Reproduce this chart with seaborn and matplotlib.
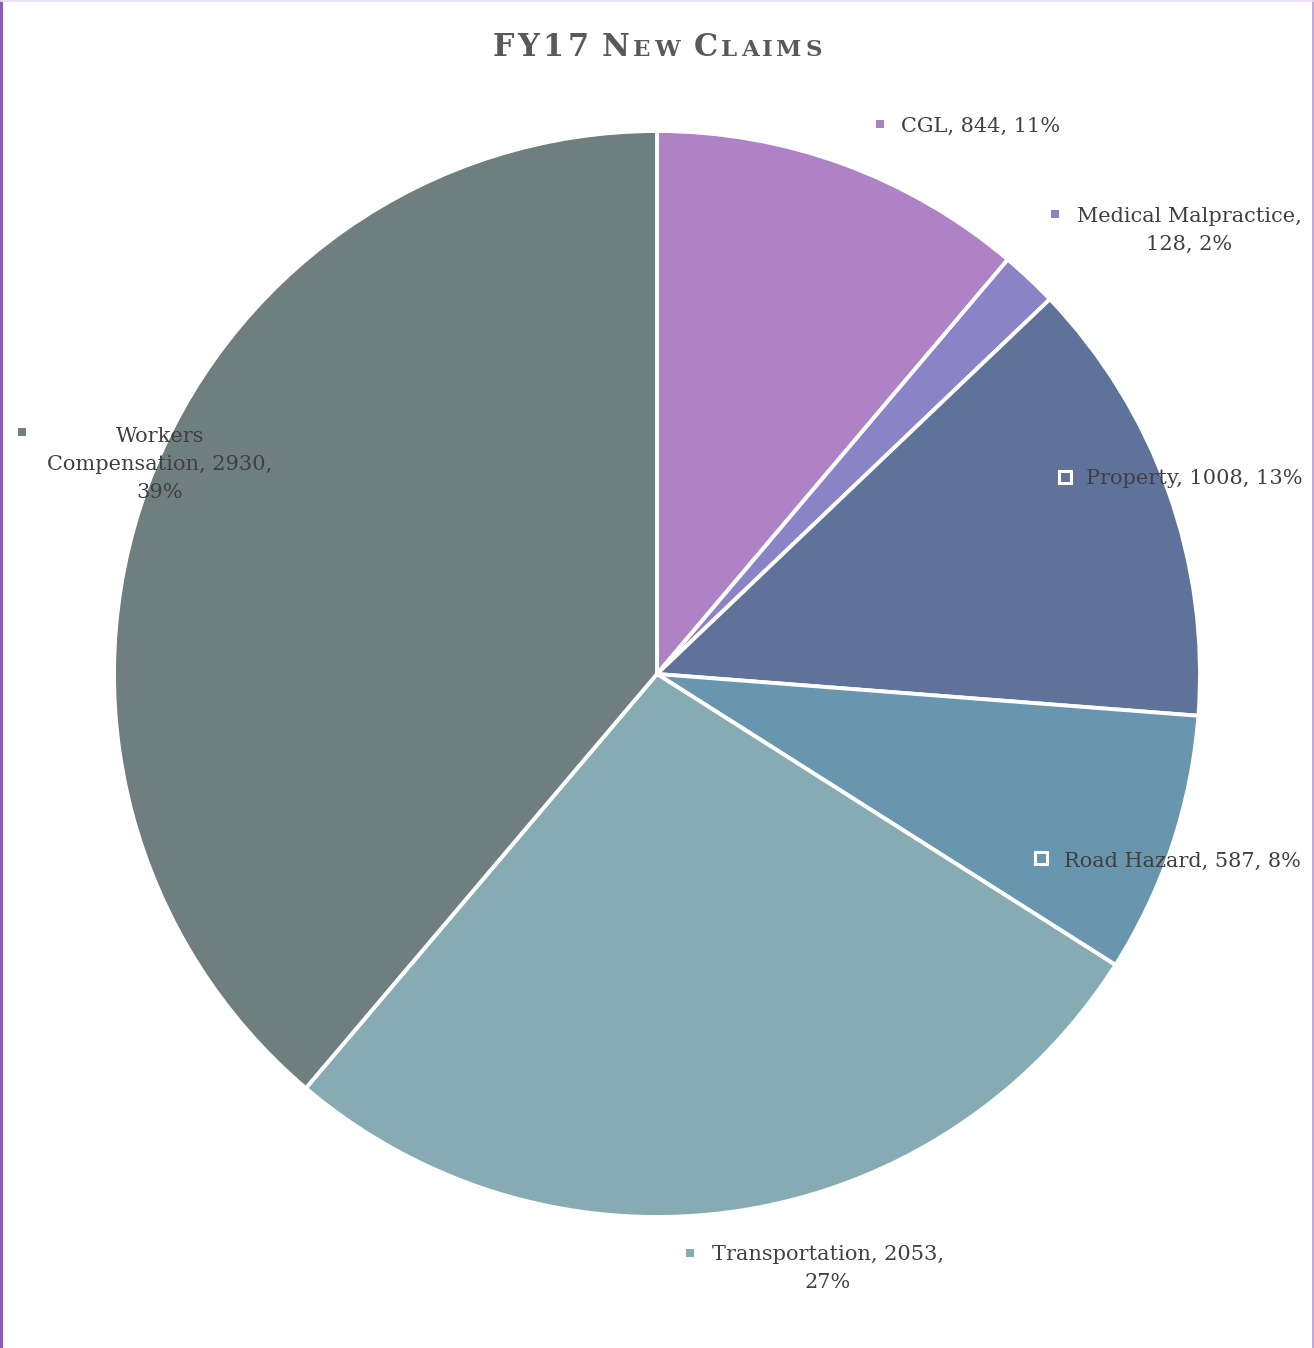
import matplotlib.pyplot as plt
import seaborn as sns

sns.set_theme(style="white")
plt.rcParams["font.family"] = ["DejaVu Serif"]

# FY17 new claims by line
categories = ["CGL", "Medical Malpractice", "Property", "Road Hazard",
              "Transportation", "Workers Compensation"]
claims = [844, 128, 1008, 587, 2053, 2930]
pcts = ["11%", "2%", "13%", "8%", "27%", "39%"]
colors = ["#ae82c5", "#8a84c6", "#5f7299", "#6896ae", "#86abb3", "#6f7f80"]

W, H = 1314, 1348
fig = plt.figure(figsize=(W / 100, H / 100), dpi=100)
ax = fig.add_axes([0, 0, 1, 1])

ax.pie(claims, colors=colors, startangle=90, counterclock=False,
       center=(657, H - 674), radius=543,
       wedgeprops=dict(edgecolor="white", linewidth=2.8))
# pie() resets the limits, so set the pixel frame afterwards
ax.set_xlim(0, W)
ax.set_ylim(0, H)
ax.set_aspect("equal")
ax.axis("off")

# data labels (text, text centre, marker position, marker over slice?)
label_text = [
    f"{categories[0]}, {claims[0]}, {pcts[0]}",
    f"{categories[1]},\n{claims[1]}, {pcts[1]}",
    f"{categories[2]}, {claims[2]}, {pcts[2]}",
    f"{categories[3]}, {claims[3]}, {pcts[3]}",
    f"{categories[4]}, {claims[4]},\n{pcts[4]}",
    "Workers\nCompensation, " + f"{claims[5]},\n{pcts[5]}",
]
text_pos = [(981, 126), (1189, 230), (1194, 479), (1182, 861), (828, 1268), (160, 464)]
marker_pos = [(880, 124), (1055, 214), (1065, 477), (1041, 858), (690, 1253), (22, 432)]
on_slice = [False, False, True, True, False, False]

for i in range(len(categories)):
    tx, ty = text_pos[i]
    ax.text(tx, H - ty, label_text[i], ha="center", va="center",
            multialignment="center", fontsize=15, color="#404040",
            linespacing=1.6)
    mx, my = marker_pos[i]
    if on_slice[i]:
        ax.plot(mx, H - my, marker="s", ms=8, mfc=colors[i], mec="white", mew=2.2)
    else:
        ax.plot(mx, H - my, marker="s", ms=6, mfc=colors[i], mec=colors[i], mew=0)

# small-caps title built letter by letter
title_parts = [("F", 22), ("Y", 22), ("1", 22), ("7", 22), (" ", 22),
               ("N", 22), ("E", 16.5), ("W", 16.5), (" ", 22),
               ("C", 22), ("L", 16.5), ("A", 16.5), ("I", 16.5), ("M", 16.5), ("S", 16.5)]
fig.canvas.draw()
renderer = fig.canvas.get_renderer()
x = 0.0
gap = 3.5
artists = []
for ch, sz in title_parts:
    t = ax.text(x, H - 56, ch, fontsize=sz, fontweight="bold", color="#595959",
                ha="left", va="baseline")
    if ch == " ":
        w = 10
    else:
        bb = t.get_window_extent(renderer)
        w = bb.width + gap
    artists.append(t)
    x += w
shift = 657 - (x - gap) / 2
for t in artists:
    px, py = t.get_position()
    t.set_position((px + shift, py))

# chart border lines
ax.plot([1, 1], [0, H], color="#8e5bb5", lw=2.2, solid_capstyle="butt")
ax.plot([W - 1, W - 1], [0, H], color="#b89bd0", lw=1.2)
ax.plot([0, W], [H - 0.5, H - 0.5], color="#e6dcf0", lw=1.2)

fig.savefig("out.png", dpi=100)
